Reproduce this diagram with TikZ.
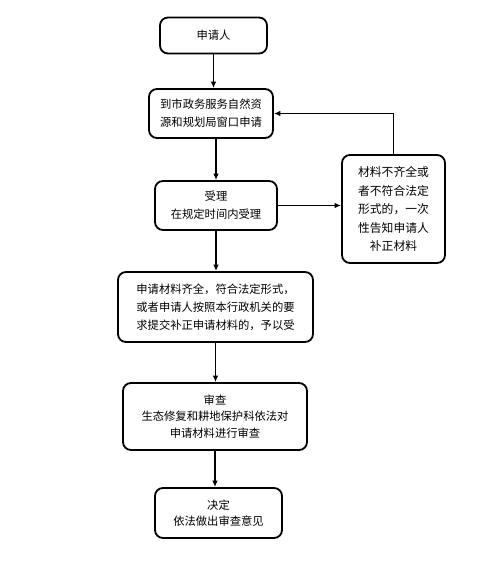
\documentclass[tikz,border=0pt]{standalone}
\usepackage{fontspec}
\setmainfont{Noto Sans CJK SC}
\usetikzlibrary{arrows.meta}
\begin{document}
\begin{tikzpicture}[x=1pt,y=-1pt,
  box/.style={draw,line width=1.8pt,rounded corners=8pt,align=center,
    inner sep=0pt,font=\fontsize{11.3}{18}\selectfont},
  arr/.style={line width=1.5pt,-{Latex[length=6.5pt,width=5.5pt]}}]
\useasboundingbox (0,0) rectangle (490,579);
\node[box,minimum width=107pt,minimum height=36pt] (b1) at (213.5,35.5) {申请人};
\node[box,minimum width=124pt,minimum height=49pt] (b2) at (211,113.5) {到市政务服务自然资\\源和规划局窗口申请};
\node[box,minimum width=122pt,minimum height=49pt] (b3) at (216,205.5) {受理\\在规定时间内受理};
\node[box,minimum width=103pt,minimum height=108pt,font=\fontsize{11.8}{18.5}\selectfont] (br) at (393.5,209) {材料不齐全或\\者不符合法定\\形式的，一次\\性告知申请人\\补正材料};
\node[box,minimum width=195pt,minimum height=70pt] (b4) at (215.5,307) {申请材料齐全，符合法定形式，\\或者申请人按照本行政机关的要\\求提交补正申请材料的，予以受};
\node[box,minimum width=184pt,minimum height=67pt,font=\fontsize{11.3}{16.5}\selectfont] (b5) at (215,416.5) {审查\\生态修复和耕地保护科依法对\\申请材料进行审查};
\node[box,minimum width=127pt,minimum height=50pt,font=\fontsize{11.3}{16.5}\selectfont] (b6) at (218.5,513) {决定\\依法做出审查意见};
\draw[arr] (b1.south) -- (b1.south |- b2.north);
\draw[arr] (b3.north |- b2.south) -- (b3.north);
\draw[arr] (b3.south) -- (b3.south |- b4.north);
\draw[arr] (b4.south) -- (b4.south |- b5.north);
\draw[arr] (b5.south) -- (b5.south |- b6.north);
\draw[arr] (b3.east) -- (b3.east -| br.west);
\draw[arr] (br.north) |- (b2.east);
\end{tikzpicture}
\end{document}
